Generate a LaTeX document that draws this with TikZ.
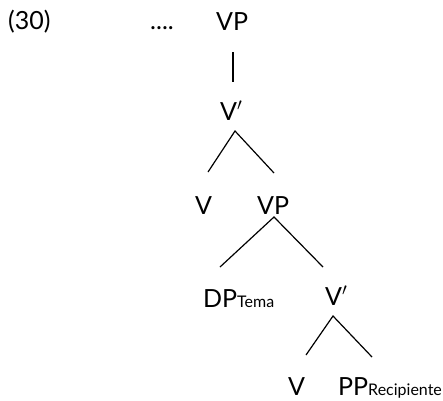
\documentclass[tikz,border=0pt]{standalone}
\usepackage{fontspec}
\setmainfont{Lato}
\begin{document}
\begin{tikzpicture}[x=1pt,y=-1pt,
  lab/.style={inner sep=0pt,anchor=base west,font=\fontsize{25}{28}\selectfont},
  br/.style={line width=1.2pt}]
\useasboundingbox (0,0) rectangle (443,400);
\node[lab] (ex) at (8,29) {(30)};
\node[lab] (dots) at (150,29) {....};
\node[lab] (vp1) at (216,30) {VP};
\node[lab] (vbar1) at (220,120) {V$'$};
\node[lab] (v1) at (195,214) {V};
\node[lab] (vp2) at (257,214) {VP};
\node[lab] (dp) at (203,307) {DP{\fontsize{16}{18}\selectfont Tema}};
\node[lab] (vbar2) at (325,305) {V$'$};
\node[lab] (v2) at (288,395) {V};
\node[lab] (pp) at (338,395) {PP{\fontsize{16}{18}\selectfont Recipiente}};
\coordinate (t1) at (233,52);
\coordinate (b1) at (233,82);
\coordinate (a2) at (235,131);
\coordinate (l2) at (208,172);
\coordinate (r2) at (274,173);
\coordinate (a3) at (274,217);
\coordinate (l3) at (220,267);
\coordinate (r3) at (323,267);
\coordinate (a4) at (333,316);
\coordinate (l4) at (306,355);
\coordinate (r4) at (372,357);
\draw[br] (t1) -- (b1);
\draw[br] (l2) -- (a2) -- (r2);
\draw[br] (l3) -- (a3) -- (r3);
\draw[br] (l4) -- (a4) -- (r4);
\end{tikzpicture}
\end{document}
